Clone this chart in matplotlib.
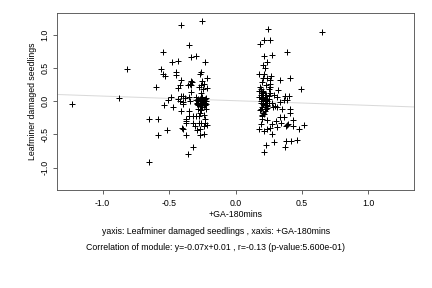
import matplotlib
matplotlib.use("Agg")
import matplotlib.pyplot as plt
import numpy as np

plt.rcParams['font.family'] = ['Liberation Sans', 'DejaVu Sans']

# scattered points (x = +GA-180mins, y = Leafminer damaged seedlings)
x_vals = [
    -1.23, -0.875, -0.815, -0.65, -0.654, -0.586, -0.586, -0.60, 0.65,
    # left cluster
    -0.41, -0.25, -0.346, -0.549, -0.30, -0.338, -0.474, -0.43, -0.226, -0.564,
    -0.45, -0.544, -0.53, -0.446, -0.263, -0.266, -0.218, -0.41, -0.333, -0.326,
    -0.343, -0.358, -0.336, -0.42, -0.434, -0.25, -0.263, -0.24, -0.276, -0.218,
    -0.246, -0.336, -0.258, -0.296, -0.396, -0.41, -0.378, -0.353, -0.486, -0.506,
    -0.434, -0.416, -0.393, -0.34, -0.539, -0.469, -0.396, -0.30,
    -0.41, -0.348, -0.283, -0.258, -0.223, -0.32, -0.296, -0.35, -0.276, -0.24,
    -0.373, -0.373, -0.373, -0.323, -0.276, -0.306, -0.258, -0.23, -0.218, -0.24,
    -0.266, -0.40, -0.393, -0.514, -0.291, -0.376, -0.27, -0.24, -0.323, -0.358,
    -0.23, -0.266,
    # left dense blob
    -0.29, -0.28, -0.27, -0.26, -0.25, -0.24, -0.23, -0.22, -0.28, -0.27,
    -0.26, -0.25, -0.24, -0.23, -0.29, -0.27, -0.26, -0.25, -0.24, -0.22,
    -0.28, -0.26, -0.25, -0.23, -0.27, -0.25, -0.24, -0.26, -0.22, -0.29,
    # right cluster
    0.246, 0.183, 0.216, 0.256, 0.39, 0.278, 0.218, 0.238, 0.21, 0.223,
    0.178, 0.218, 0.21, 0.236, 0.268, 0.256, 0.336, 0.41, 0.494, 0.20,
    0.228, 0.26, 0.185, 0.256, 0.25, 0.32, 0.195, 0.198, 0.26, 0.286,
    0.373, 0.40, 0.31, 0.368, 0.39, 0.336, 0.253, 0.276, 0.296, 0.31,
    0.28, 0.41, 0.41, 0.353, 0.336, 0.368, 0.185, 0.198, 0.218, 0.20,
    0.238, 0.306, 0.43, 0.188, 0.276, 0.343, 0.386, 0.396, 0.381, 0.436,
    0.474, 0.31, 0.516, 0.256, 0.236, 0.18, 0.216, 0.276, 0.29, 0.378,
    0.416, 0.466, 0.373, 0.228, 0.218,
    # right dense blob
    0.18, 0.19, 0.20, 0.21, 0.22, 0.23, 0.24, 0.25, 0.19, 0.20,
    0.21, 0.22, 0.23, 0.24, 0.18, 0.20, 0.21, 0.22, 0.24, 0.25,
    0.19, 0.21, 0.23, 0.20, 0.22, 0.24, 0.21, 0.23, 0.19, 0.22,
    0.20, 0.23, 0.21, 0.24, 0.22,
]
y_vals = [
    -0.04, 0.045, 0.49, -0.92, -0.26, -0.26, -0.51, 0.22, 1.05,
    # left cluster
    1.16, 1.22, 0.85, 0.75, 0.69, 0.67, 0.60, 0.61, 0.60, 0.49,
    0.45, 0.41, 0.38, 0.40, 0.44, 0.41, 0.36, 0.33, 0.31, 0.29,
    0.27, 0.24, 0.24, 0.24, 0.20, 0.31, 0.25, 0.27, 0.22, 0.20,
    0.18, 0.14, 0.13, 0.07, 0.076, 0.076, 0.056, 0.07, 0.06, 0.02,
    0.03, 0.0, -0.015, 0.0, -0.06, -0.08, -0.035, 0.015,
    -0.14, -0.14, -0.11, -0.13, -0.12, -0.22, -0.22, -0.22, -0.22, -0.21,
    -0.26, -0.29, -0.33, -0.33, -0.32, -0.37, -0.33, -0.32, -0.35, -0.37,
    -0.41, -0.40, -0.42, -0.43, -0.43, -0.51, -0.51, -0.49, -0.69, -0.80,
    -0.26, -0.18,
    # left dense blob
    0.02, 0.0, -0.02, -0.04, -0.02, 0.0, 0.03, 0.05, -0.05, 0.04,
    0.01, 0.06, -0.06, -0.03, -0.02, -0.07, -0.05, -0.01, 0.02, -0.04,
    0.03, -0.03, 0.0, -0.06, 0.01, -0.08, -0.05, 0.05, 0.0, -0.04,
    # right cluster
    1.10, 0.87, 0.93, 0.93, 0.75, 0.70, 0.69, 0.60, 0.55, 0.50,
    0.41, 0.42, 0.36, 0.35, 0.38, 0.33, 0.32, 0.35, 0.19, 0.29,
    0.25, 0.27, 0.21, 0.21, 0.18, 0.17, 0.18, 0.13, 0.12, 0.09,
    0.08, 0.08, 0.06, 0.02, 0.02, -0.015, 0.04, -0.03, -0.07, -0.09,
    -0.08, -0.12, -0.18, -0.11, -0.23, -0.23, -0.13, -0.21, -0.19, -0.26,
    -0.28, -0.29, -0.28, -0.34, -0.34, -0.33, -0.36, -0.34, -0.37, -0.37,
    -0.41, -0.38, -0.35, -0.40, -0.42, -0.42, -0.45, -0.49, -0.61, -0.60,
    -0.60, -0.59, -0.69, -0.66, -0.77,
    # right dense blob
    0.15, 0.10, 0.05, 0.0, -0.03, 0.02, -0.05, 0.08, -0.02, 0.12,
    0.07, 0.03, -0.06, -0.10, 0.06, -0.08, -0.04, 0.10, 0.00, -0.02,
    -0.12, 0.14, 0.09, 0.03, -0.15, -0.07, -0.18, 0.0, 0.01, 0.05,
    -0.22, -0.11, 0.16, 0.04, -0.09,
]

slope, intercept = -0.07, 0.01
x_ticks = [-1.0, -0.5, 0.0, 0.5, 1.0]
y_ticks = [-1.0, -0.5, 0.0, 0.5, 1.0]
x_label = "+GA-180mins"
y_label = "Leafminer damaged seedlings"
caption1 = "yaxis: Leafminer damaged seedlings , xaxis: +GA-180mins"
caption2 = "Correlation of module: y=-0.07x+0.01 , r=-0.13 (p-value:5.600e-01)"

FS = 8.8
fig = plt.figure(figsize=(6, 4), dpi=72)
ax = fig.add_axes([0.1327, 0.340, 0.8249, 0.616])
lim = 1.34
ax.set_xlim(-lim, lim)
ax.set_ylim(-lim, lim)

xl = np.array([-lim, lim])
ax.plot(xl, slope * xl + intercept, color='#d9d9d9', lw=1.0, zorder=1)
ax.scatter(x_vals, y_vals, marker='+', s=30, c='black', linewidths=1.0, zorder=2)

ax.set_xticks(x_ticks)
ax.set_yticks(y_ticks)
ax.set_xticklabels([f"{t:.1f}" for t in x_ticks], fontsize=FS)
ax.set_yticklabels([f"{t:.1f}" for t in y_ticks], fontsize=FS, rotation=90, va='center')
ax.tick_params(direction='out', length=4, width=0.6, colors='black')
ax.tick_params(axis='x', pad=5)
ax.tick_params(axis='y', pad=4)
for s in ax.spines.values():
    s.set_color('#555555')
    s.set_linewidth(0.9)

ax.set_xlabel(x_label, fontsize=FS, labelpad=2)
ax.set_ylabel(y_label, fontsize=FS, labelpad=3)

fig.text(0.5, 1 - 232 / 288, caption1, ha='center', va='center', fontsize=FS)
fig.text(0.5, 1 - 248 / 288, caption2, ha='center', va='center', fontsize=FS)

fig.savefig("out.png", dpi=72)
